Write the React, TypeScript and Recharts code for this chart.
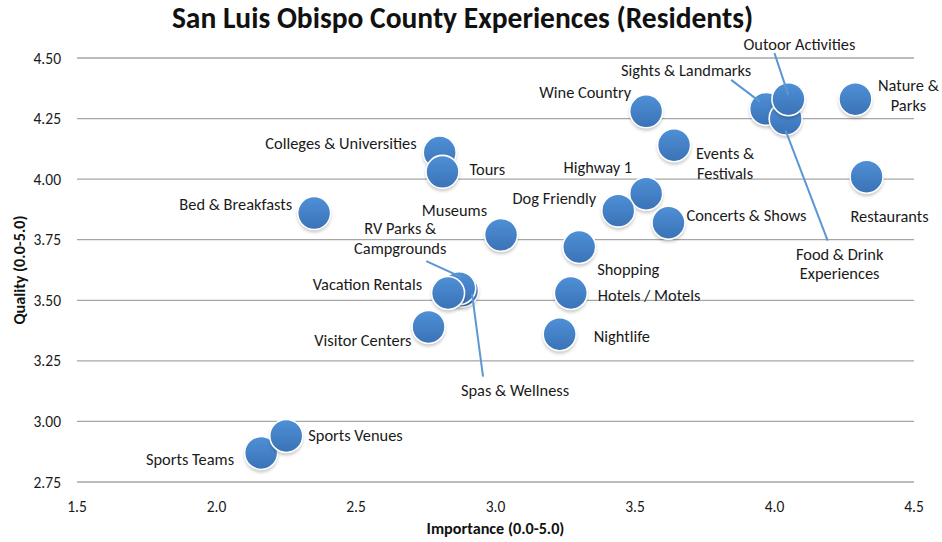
import { CartesianGrid, Scatter, ScatterChart, XAxis, YAxis } from "recharts";

const names = [
  "Bed & Breakfasts",
  "Colleges & Universities",
  "Tours",
  "Museums",
  "Spas & Wellness",
  "RV Parks & Campgrounds",
  "Vacation Rentals",
  "Visitor Centers",
  "Sports Teams",
  "Sports Venues",
  "Nightlife",
  "Hotels / Motels",
  "Shopping",
  "Highway 1",
  "Dog Friendly",
  "Concerts & Shows",
  "Events & Festivals",
  "Wine Country",
  "Sights & Landmarks",
  "Food & Drink Experiences",
  "Outoor Activities",
  "Nature & Parks",
  "Restaurants",
];
const importance = [
  2.35, 2.8, 2.81, 3.02, 2.88, 2.87, 2.83, 2.76, 2.16, 2.25, 3.23, 3.27, 3.3,
  3.54, 3.44, 3.62, 3.64, 3.54, 3.97, 4.04, 4.05, 4.29, 4.33,
];
const quality = [
  3.86, 4.11, 4.03, 3.77, 3.54, 3.55, 3.53, 3.39, 2.87, 2.94, 3.36, 3.53, 3.72,
  3.94, 3.87, 3.82, 4.14, 4.28, 4.29, 4.25, 4.33, 4.33, 4.01,
];
const xTicks = [1.5, 2.0, 2.5, 3.0, 3.5, 4.0, 4.5];
const yTicks = [2.75, 3.0, 3.25, 3.5, 3.75, 4.0, 4.25, 4.5];

const points = names.map((name, i) => ({
  name,
  x: importance[i],
  y: quality[i],
}));

// label placement relative to the bubble centre
type Layout = {
  anchor: "start" | "middle" | "end";
  dx: number;
  dy: number;
  lines?: string[];
  leader?: [number, number, number, number];
};

const layout: Record<string, Layout> = {
  "Bed & Breakfasts": { anchor: "end", dx: -22, dy: -9 },
  "Colleges & Universities": { anchor: "end", dx: -23, dy: -9 },
  Tours: { anchor: "start", dx: 27, dy: -3 },
  Museums: { anchor: "end", dx: -14, dy: -25 },
  "Spas & Wellness": {
    anchor: "middle",
    dx: 53,
    dy: 99,
    leader: [10, 3, 21, 86],
  },
  "RV Parks & Campgrounds": {
    anchor: "middle",
    dx: -59,
    dy: -60,
    lines: ["RV Parks &", "Campgrounds"],
    leader: [-33, -27, 2, -11],
  },
  "Vacation Rentals": { anchor: "end", dx: -26, dy: -9 },
  "Visitor Centers": { anchor: "end", dx: -17, dy: 13 },
  "Sports Teams": { anchor: "end", dx: -27, dy: 6 },
  "Sports Venues": { anchor: "start", dx: 22, dy: -1 },
  Nightlife: { anchor: "start", dx: 34, dy: 2 },
  "Hotels / Motels": { anchor: "start", dx: 27, dy: 2 },
  Shopping: { anchor: "start", dx: 18, dy: 22 },
  "Highway 1": { anchor: "end", dx: -14, dy: -27 },
  "Dog Friendly": { anchor: "end", dx: -22, dy: -13 },
  "Concerts & Shows": { anchor: "start", dx: 18, dy: -8 },
  "Events & Festivals": {
    anchor: "middle",
    dx: 51,
    dy: 8,
    lines: ["Events &", "Festivals"],
  },
  "Wine Country": { anchor: "end", dx: -15, dy: -19 },
  "Sights & Landmarks": {
    anchor: "middle",
    dx: -80,
    dy: -39,
    leader: [-35, -29, -6, -7],
  },
  "Food & Drink Experiences": {
    anchor: "middle",
    dx: 54,
    dy: 135,
    lines: ["Food & Drink", "Experiences"],
    leader: [0, 12, 42, 122],
  },
  "Outoor Activities": {
    anchor: "middle",
    dx: 11,
    dy: -55,
    leader: [-14, -46, 0, -4],
  },
  "Nature & Parks": {
    anchor: "middle",
    dx: 53,
    dy: -14,
    lines: ["Nature &", "Parks"],
  },
  Restaurants: { anchor: "middle", dx: 23, dy: 39 },
};

const FONT = "Carlito, Lato, 'Liberation Sans', sans-serif";

function Bubble(props: any) {
  const { cx, cy } = props;
  if (cx == null || cy == null) return null;
  return (
    <g>
      <circle cx={cx} cy={cy + 2.5} r={17} fill="rgba(0,0,0,0.2)" filter="url(#blur)" />
      <circle cx={cx} cy={cy} r={16.5} fill="url(#bubbleFill)" stroke="#ffffff" strokeWidth={1.6} />
    </g>
  );
}

function BubbleLabel(props: any) {
  const { cx, cy, payload } = props;
  if (cx == null || cy == null) return null;
  const l = layout[payload.name];
  if (!l) return null;
  const lines = l.lines ?? [payload.name];
  return (
    <g>
      {l.leader && (
        <line
          x1={cx + l.leader[0]}
          y1={cy + l.leader[1]}
          x2={cx + l.leader[2]}
          y2={cy + l.leader[3]}
          stroke="#5b97d2"
          strokeWidth={2}
        />
      )}
      {lines.map((t, i) => (
        <text
          key={t}
          x={cx + l.dx}
          y={cy + l.dy + i * 19.6}
          textAnchor={l.anchor}
          dominantBaseline="central"
          fontFamily={FONT}
          fontSize={16.4}
          fill="#1a1a1a"
        >
          {t}
        </text>
      ))}
    </g>
  );
}

export default function App() {
  return (
    <div
      style={{
        position: "absolute",
        left: 0,
        top: 0,
        width: 942,
        height: 542,
        background: "#ffffff",
      }}
    >
      <svg width={0} height={0} style={{ position: "absolute" }}>
        <defs>
          <linearGradient id="bubbleFill" x1="0" y1="0" x2="0" y2="1">
            <stop offset="0%" stopColor="#4f90d6" />
            <stop offset="100%" stopColor="#3a72b6" />
          </linearGradient>
          <filter id="blur" x="-50%" y="-50%" width="200%" height="200%">
            <feGaussianBlur stdDeviation={1.6} />
          </filter>
        </defs>
      </svg>
      <div
        style={{
          position: "absolute",
          left: 0,
          top: 0,
          width: 925,
          lineHeight: "36px",
          textAlign: "center",
          fontFamily: FONT,
          fontWeight: 700,
          fontSize: 29.5,
          color: "#111",
        }}
      >
        San Luis Obispo County Experiences (Residents)
      </div>
      <ScatterChart
        width={942}
        height={542}
        margin={{ top: 58, right: 28, bottom: 0, left: 0 }}
      >
        <CartesianGrid vertical={false} stroke="#a6a6a6" strokeWidth={1.3} />
        <XAxis
          type="number"
          dataKey="x"
          domain={[1.5, 4.5]}
          ticks={xTicks}
          tickFormatter={(v: number) => v.toFixed(1)}
          axisLine={false}
          tickLine={false}
          tickMargin={13}
          height={60}
          tick={{ fontFamily: FONT, fontSize: 15.5, fill: "#1a1a1a" }}
          label={{
            value: "Importance (0.0-5.0)",
            position: "insideBottom",
            offset: 8,
            style: { fontFamily: FONT, fontSize: 16.2, fontWeight: 700, fill: "#111" },
          }}
        />
        <YAxis
          type="number"
          dataKey="y"
          domain={[2.75, 4.5]}
          ticks={yTicks}
          tickFormatter={(v: number) => v.toFixed(2)}
          axisLine={false}
          tickLine={false}
          tickMargin={10}
          width={77}
          tick={{ fontFamily: FONT, fontSize: 15.5, fill: "#1a1a1a" }}
          label={{
            value: "Quality (0.0-5.0)",
            angle: -90,
            position: "insideLeft",
            offset: 19,
            style: {
              fontFamily: FONT,
              fontSize: 16.2,
              fontWeight: 700,
              fill: "#111",
              textAnchor: "middle",
            },
          }}
        />
        <Scatter data={points} shape={Bubble} isAnimationActive={false} />
        <Scatter data={points} shape={BubbleLabel} isAnimationActive={false} />
      </ScatterChart>
    </div>
  );
}
